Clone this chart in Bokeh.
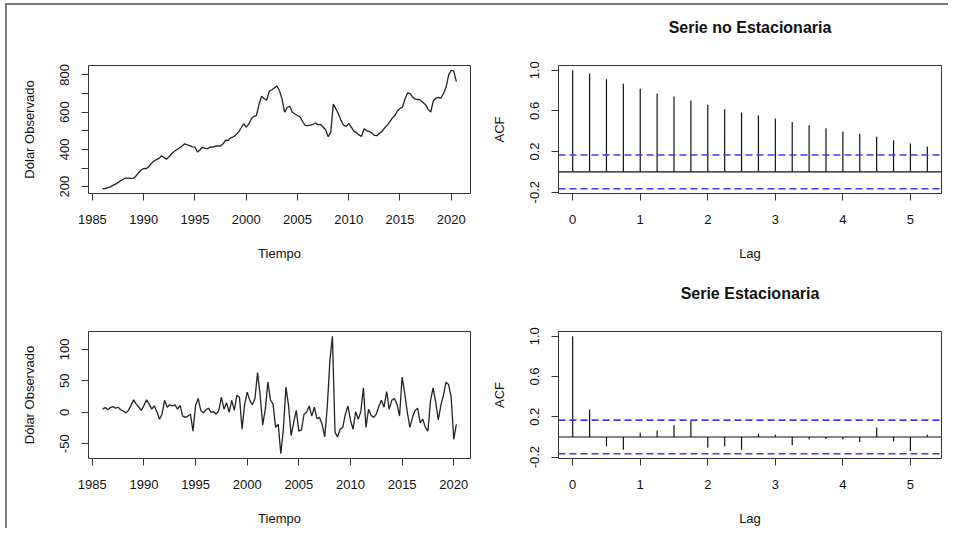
import math
from bokeh.plotting import figure
from bokeh.layouts import column, row
from bokeh.models import FixedTicker, LinearAxis
from bokeh.embed import file_html
from bokeh.resources import INLINE

# ---------------- data ----------------
inicio = 1986
frecuencia = 4

dolar_observado = [
    189, 190, 195, 199, 207, 214, 222, 232, 240, 246, 246, 245, 246, 258, 275, 290,
    298, 297, 307, 325, 338, 345, 352, 366, 356, 348, 362, 378, 390, 400, 408, 418,
    430, 424, 420, 414, 412, 386, 398, 412, 406, 404, 414, 412, 418, 419, 418, 430,
    450, 448, 462, 468, 478, 493, 515, 538, 520, 535, 565, 578, 582, 640, 686, 672,
    664, 712, 720, 730, 740, 715, 670, 600, 625, 632, 600, 590, 582, 575, 550, 529,
    528, 530, 534, 542, 533, 535, 520, 506, 468, 493, 643, 618, 590, 556, 530, 524,
    540, 520, 498, 490, 478, 470, 511, 500, 497, 488, 476, 474, 485, 497, 515, 529,
    548, 568, 582, 606, 620, 628, 672, 704, 700, 680, 670, 668, 664, 652, 640, 615,
    601, 660, 675, 679, 676, 700, 735, 800, 825, 820, 764,
]

dolar_diferenciado = [
    5, 7.5, 4, 7.5, 9, 6.5, 8, 4, 2, -1, 3, 11, 20, 13, 8, 3,
    11, 20, 13, 5, 10, 1, -11, -3, 19, 8, 12, 10, 12, 5, 11, -6,
    -8, -6, -3, -30, 11, 22, 3, -1, 4, 6.5, 0, 1, -3, 3, 24, 5,
    15, 0, 19, 3, 27, 24, -27, 13, 32, 19, 12, 22, 63, 27, -20, 5,
    48, 20, 13, -24, -19, -66, -27, 40, 11, -37, -16, 3, -30, -28, -3, 0,
    10, -6, 8, -10, -8, -19, -39, 8, 81, 121, -32, -39, -27, -24, -3, 10,
    -13, -27, 1, -11, 1, 39, -24, 5, -5, -8, -3, 10, 19, 8, 33, 5,
    19, 22, 13, -6, 56, 30, 0, -24, -8, 3, 6.5, -17, -11, -24, -30, 19,
    39, 16, -12, 11, 27, 48, 44, 24, -43, -19,
]

rezagos = [0, 0.25, 0.5, 0.75, 1, 1.25, 1.5, 1.75, 2, 2.25, 2.5, 2.75,
           3, 3.25, 3.5, 3.75, 4, 4.25, 4.5, 4.75, 5, 5.25]

acf_no_estacionaria = [1.0, 0.967, 0.911, 0.868, 0.818, 0.772, 0.742, 0.702,
                       0.660, 0.617, 0.583, 0.554, 0.524, 0.491, 0.458, 0.428,
                       0.395, 0.375, 0.345, 0.312, 0.279, 0.250]

acf_estacionaria = [1.0, 0.273, -0.091, -0.127, 0.041, 0.064, 0.117, 0.164,
                    -0.107, -0.091, -0.127, 0.031, 0.021, -0.081, -0.025, -0.021,
                    -0.025, -0.051, 0.094, -0.045, -0.140, 0.021]

ticks_anio = [1985, 1990, 1995, 2000, 2005, 2010, 2015, 2020]
ticks_nivel = [200, 300, 400, 500, 600, 700, 800]
etiquetas_nivel = {200: "200", 300: "", 400: "400", 500: "", 600: "600", 700: "", 800: "800"}
ticks_diff = [-50, 0, 50, 100]
etiquetas_diff = {-50: "-50", 0: "0", 50: "50", 100: "100"}
ticks_lag = [0, 1, 2, 3, 4, 5]
ticks_acf = [-0.2, 0.2, 0.6, 1.0]
etiquetas_acf = {-0.2: "-0.2", 0.2: "0.2", 0.6: "0.6", 1.0: "1.0"}

FONT = "Liberation Sans"


def r_range(vals):
    lo, hi = min(vals), max(vals)
    pad = (hi - lo) * 0.04
    return (lo - pad, hi + pad)


def estilo(p, xticks, yticks, xlabel, ylabel, yover=None):
    p.xaxis.ticker = FixedTicker(ticks=xticks)
    p.yaxis.ticker = FixedTicker(ticks=yticks)
    if yover is not None:
        p.yaxis.major_label_overrides = yover
    for ax in (p.xaxis[0], p.yaxis[0]):
        ax.axis_line_color = None
        ax.major_tick_out = 7
        ax.major_tick_in = 0
        ax.minor_tick_line_color = None
        ax.major_tick_line_color = "#333333"
        ax.major_label_text_font = FONT
        ax.major_label_text_font_size = "13px"
        ax.major_label_text_color = "#111111"
        ax.axis_label_text_font = FONT
        ax.axis_label_text_font_size = "13px"
        ax.axis_label_text_font_style = "normal"
        ax.axis_label_text_color = "#111111"
    p.xaxis.axis_label = xlabel
    p.yaxis.axis_label = ylabel
    p.xaxis.major_label_standoff = 14
    p.xaxis.axis_label_standoff = 19
    p.yaxis.major_label_orientation = "vertical"
    p.yaxis.major_label_standoff = 12
    p.yaxis.axis_label_standoff = 21
    p.xgrid.visible = False
    p.ygrid.visible = False
    p.outline_line_color = "#333333"
    p.outline_line_width = 1
    p.outline_line_alpha = 1.0
    p.background_fill_color = "white"
    p.border_fill_color = "white"


def titulo(p, texto):
    # title drawn as the label of an empty axis above the frame
    ax = LinearAxis(ticker=FixedTicker(ticks=[]), axis_label=texto,
                    axis_line_color=None, major_tick_line_color=None,
                    minor_tick_line_color=None, major_tick_out=0, major_tick_in=0,
                    major_label_text_font_size="0px", major_label_standoff=0,
                    axis_label_standoff=30, axis_label_text_font=FONT,
                    axis_label_text_font_size="16px",
                    axis_label_text_font_style="bold",
                    axis_label_text_color="#111111")
    p.add_layout(ax, "above")


def serie(x, y, top, bottom, fh, yticks, yover):
    p = figure(output_backend="svg", toolbar_location=None,
               frame_width=382, frame_height=fh,
               min_border_left=81, min_border_right=12,
               min_border_top=top, min_border_bottom=bottom,
               x_range=r_range(x), y_range=r_range(y), title=None)
    p.line(x, y, line_color="#222222", line_width=1.3)
    estilo(p, ticks_anio, yticks, "Tiempo", "Dólar Observado", yover)
    return p


def acf_plot(acf, n, texto, top, bottom, fh):
    clim = 1.96 / math.sqrt(n)
    ylo, yhi = r_range(acf + [clim, -clim])
    p = figure(output_backend="svg", toolbar_location=None,
               frame_width=383, frame_height=fh,
               min_border_left=76, min_border_right=7,
               min_border_top=top, min_border_bottom=bottom,
               x_range=r_range(rezagos), y_range=(ylo, yhi), title=None)
    xr = p.x_range
    p.segment(x0=[xr.start], x1=[xr.end], y0=[0], y1=[0],
              line_color="#111111", line_width=1.1)
    p.segment(x0=rezagos, x1=rezagos, y0=[0] * len(acf), y1=acf,
              line_color="#111111", line_width=1.2)
    for c in (clim, -clim):
        p.segment(x0=[xr.start], x1=[xr.end], y0=[c], y1=[c],
                  line_color="#3b3bff", line_width=1.6, line_dash="7 4")
    estilo(p, ticks_lag, ticks_acf, "Lag", "ACF", etiquetas_acf)
    titulo(p, texto)
    return p


tiempo_nivel = [inicio + i / frecuencia for i in range(len(dolar_observado))]
tiempo_diff = [inicio + i / frecuencia for i in range(len(dolar_diferenciado))]

p1 = serie(tiempo_nivel, dolar_observado, 60, 77, 128, ticks_nivel, etiquetas_nivel)
p2 = acf_plot(acf_no_estacionaria, len(dolar_observado), "Serie no Estacionaria", 60, 77, 128)
p3 = serie(tiempo_diff, dolar_diferenciado, 61, 69, 127, ticks_diff, etiquetas_diff)
p4 = acf_plot(acf_estacionaria, len(dolar_diferenciado), "Serie Estacionaria", 61, 69, 127)

layout = column(row(p1, p2), row(p3, p4),
                styles={"border-left": "2px solid #7a7a7a",
                        "border-top": "2px solid #7a7a7a",
                        "margin-left": "5px", "margin-top": "3px"})

open("out.html", "w").write(file_html(layout, INLINE))
